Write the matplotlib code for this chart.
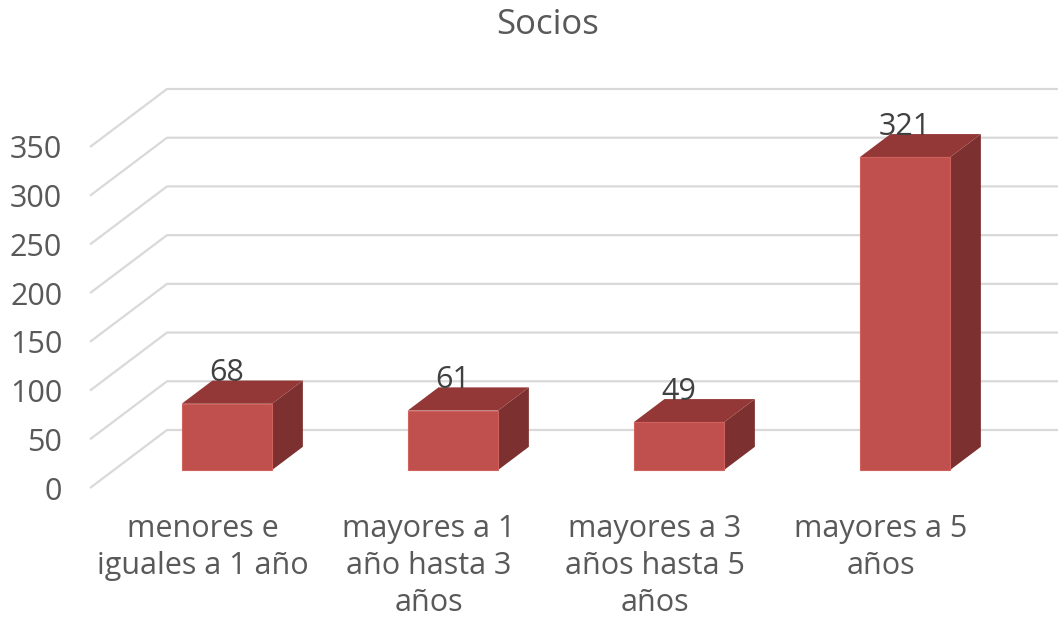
import matplotlib
matplotlib.use("Agg")
import matplotlib.pyplot as plt
from matplotlib.patches import Polygon

# data
categories = ["menores e\niguales a 1 año", "mayores a 1\naño hasta 3\naños",
              "mayores a 3\naños hasta 5\naños", "mayores a 5\naños"]
values = [68, 61, 49, 321]
y_ticks = [0, 50, 100, 150, 200, 250, 300, 350]
title = "Socios"

plt.rcParams['font.family'] = ['Open Sans', 'DejaVu Sans']

W, H = 1058, 619
fig = plt.figure(figsize=(W / 100, H / 100), dpi=100)

# front plane of the 3d box: x -0.5..3.5 -> px 90..994, y 0..350 -> px 488..147
ax = fig.add_axes([90 / W, (H - 488) / H, 904 / W, 341 / H])
ax.set_xlim(-0.5, 3.5)
ax.set_ylim(0, 350)
for s in ax.spines.values():
    s.set_visible(False)

# depth projection (full depth = 77 px right, 58 px up)
DX = 77 / 226.0
DY = 58 / 0.974


def proj(x, v, d):
    return (x + d * DX, v + d * DY)


grid_col = "#d9d9d9"
x_right = 4.0
for t in y_ticks:
    p0 = proj(-0.5, t, 0)
    p1 = proj(-0.5, t, 1)
    ax.plot([p0[0], p1[0], x_right], [p0[1], p1[1], p1[1]], color=grid_col,
            lw=1.6, clip_on=False, zorder=1, solid_capstyle="butt")

front_col = "#c0504d"
top_col = "#943837"
side_col = "#7c302f"
bw = 0.4
d0, d1 = 0.31, 0.71
for i, v in enumerate(values):
    xl, xr = i - bw / 2, i + bw / 2
    side = [proj(xr, 0, d0), proj(xr, 0, d1), proj(xr, v, d1), proj(xr, v, d0)]
    top = [proj(xl, v, d0), proj(xl, v, d1), proj(xr, v, d1), proj(xr, v, d0)]
    front = [proj(xl, 0, d0), proj(xr, 0, d0), proj(xr, v, d0), proj(xl, v, d0)]
    ax.add_patch(Polygon(side, closed=True, fc=side_col, ec="none", clip_on=False, zorder=3))
    ax.add_patch(Polygon(top, closed=True, fc=top_col, ec="none", clip_on=False, zorder=3))
    ax.add_patch(Polygon(front, closed=True, fc=front_col, ec="#d0625e", lw=0.8,
                         clip_on=False, zorder=4))
    lx, ly = proj(i, v, d0)
    ax.annotate(str(v), (lx, ly), xytext=(0, 11), textcoords="offset points",
                ha="center", va="bottom", fontsize=22, color="#404040", zorder=5)

ax.set_yticks(y_ticks)
ax.set_yticklabels([str(t) for t in y_ticks])
ax.set_xticks(range(len(categories)))
ax.set_xticklabels(categories, linespacing=1.3)
ax.tick_params(axis="y", length=0, pad=20, labelsize=22, labelcolor="#595959")
ax.tick_params(axis="x", length=0, pad=19, labelsize=22, labelcolor="#595959")

fig.text(548 / W, 1 - 25 / H, title, ha="center", va="center", fontsize=25, color="#595959")

fig.savefig("out.png", dpi=100)
